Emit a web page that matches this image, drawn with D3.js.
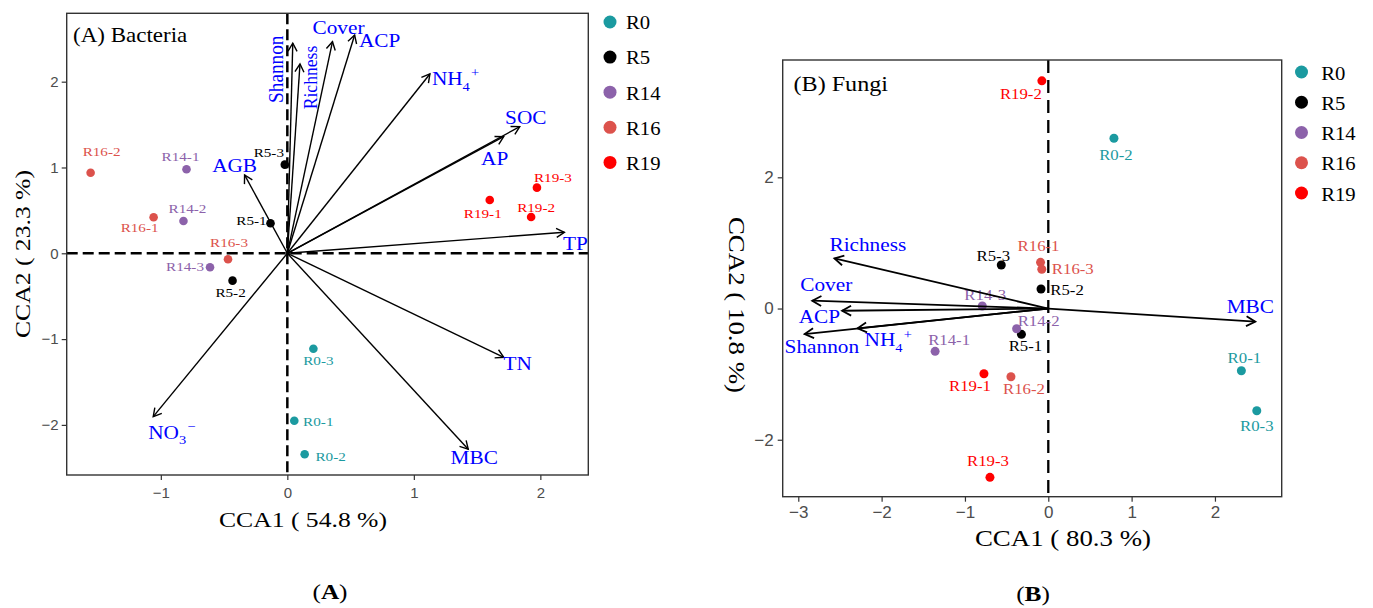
<!DOCTYPE html>
<html><head><meta charset="utf-8">
<script src="https://cdn.jsdelivr.net/npm/d3@7"></script>
<style>html,body{margin:0;padding:0;background:#fff;} svg{display:block;}</style>
</head><body><svg id="chart" width="1373" height="608"></svg>
<script>
// ---------------- data ----------------
const groups = ["R0", "R5", "R14", "R16", "R19"];
const groupColors = ["#1b9aa0", "#000000", "#8c62aa", "#dc524c", "#ff0000"];
const sites = ["R0-1","R0-2","R0-3","R5-1","R5-2","R5-3","R14-1","R14-2","R14-3","R16-1","R16-2","R16-3","R19-1","R19-2","R19-3"];

// (A) Bacteria – site scores
const bactCCA1 = [0.055, 0.137, 0.206, -0.133, -0.433, -0.02, -0.797, -0.821, -0.611, -1.057, -1.555, -0.469, 1.60, 1.927, 1.973];
const bactCCA2 = [-1.951, -2.343, -1.112, 0.35, -0.319, 1.033, 0.979, 0.376, -0.163, 0.42, 0.939, -0.07, 0.621, 0.423, 0.765];
// (A) Bacteria – environmental vectors
const bactVars = ["Shannon","Richness","Cover","ACP","NH4+","SOC","AP","TP","AGB","TN","MBC","NO3−"];
const bactVarCCA1 = [0.043, 0.10, 0.357, 0.532, 1.127, 1.837, 1.71, 2.19, -0.338, 1.711, 1.43, -1.06];
const bactVarCCA2 = [2.448, 2.206, 2.466, 2.544, 2.09, 1.476, 1.359, 0.245, 0.913, -1.212, -2.284, -1.904];
const bactXTicks = [-1, 0, 1, 2];
const bactYTicks = [-2, -1, 0, 1, 2];
const bactTitle = "(A) Bacteria";
const bactXLabel = "CCA1 ( 54.8 %)";
const bactYLabel = "CCA2 ( 23.3 %)";

// (B) Fungi – site scores
const fungCCA1 = [2.317, 0.788, 2.502, -0.322, -0.087, -0.564, -1.358, -0.38, -0.792, -0.093, -0.448, -0.078, -0.772, -0.077, -0.70];
const fungCCA2 = [-0.948, 2.595, -1.558, -0.393, 0.297, 0.663, -0.652, -0.308, 0.038, 0.704, -1.04, 0.598, -0.994, 3.47, -2.573];
// (B) Fungi – environmental vectors
const fungVars = ["Richness","Cover","ACP","NH4+","Shannon","MBC"];
const fungVarCCA1 = [-2.566, -2.832, -2.474, -2.288, -2.924, 2.484];
const fungVarCCA2 = [0.765, 0.119, -0.034, -0.302, -0.389, -0.201];
const fungXTicks = [-3, -2, -1, 0, 1, 2];
const fungYTicks = [-2, 0, 2];
const fungTitle = "(B) Fungi";
const fungXLabel = "CCA1 ( 80.3 %)";
const fungYLabel = "CCA2 ( 10.8 %)";

// ---------------- layout (label nudges in px, relative to the mark) ----------------
const bactSiteLabelOffset = [[24,5],[26,7],[5,16],[-19,2],[-2,16],[-16,-8],[-6,-8],[4,-8],[-25,4],[-14,15],[11,-17],[1,-12],[-7,18],[5,-5],[16,-6]];
const fungSiteLabelOffset = [[3,-8],[2,22],[0,20],[4,17],[26,6],[-8,-4],[14,-6],[22,-3],[3,-6],[-2,-11],[13,17],[31,5],[-14,17],[-21,18],[-2,-11]];
// [dx, dy, anchor, rotate]
const bactVarLabelPos = [[-10,26,"middle",-90],[17,13.5,"middle",-90],[6,-8,"middle",0],[25,12,"middle",0],[2,11,"start",0],[6,-3,"middle",0],[-9,28,"middle",0],[11,18,"middle",0],[-10,-3,"middle",0],[14,13,"middle",0],[6,15,"middle",0],[-5,22,"start",0]];
const fungVarLabelPos = [[-5,-7,"start",0],[-12,-10,"start",0],[-2,12,"end",0],[7,18,"start",0],[-20,19,"start",0],[-5,-9,"middle",0]];

const SERIF = "Liberation Serif, Times New Roman, serif";
const SANS = "Liberation Sans, Arial, sans-serif";
const SX = 1.15;
const BLUE = "#0000ff";

const svg = d3.select("#chart");
const defs = svg.append("defs");
function marker(id, len, half, w) {
  defs.append("marker").attr("id", id)
    .attr("viewBox", `${-len-2} ${-half-2} ${len+4} ${2*half+4}`)
    .attr("refX", 0).attr("refY", 0)
    .attr("markerWidth", len+4).attr("markerHeight", 2*half+4)
    .attr("markerUnits", "userSpaceOnUse").attr("orient", "auto")
    .append("path").attr("d", `M${-len},${-half}L0,0L${-len},${half}`)
    .attr("fill", "none").attr("stroke", "#000").attr("stroke-width", w);
}
marker("arrA", 8, 4.5, 1.4);
marker("arrB", 9, 5, 1.8);

function parts(name) {
  const m = name.match(/^([A-Z]+)(\d)([+−])$/);
  return m ? [[m[1]], [m[2], "sub"], [m[3], "sup"]] : name;
}

function drawText(g, x, y, content, o) {
  const fs = o.size;
  const t = g.append("text")
    .attr("transform", `translate(${x},${y})` + (o.rotate ? ` rotate(${o.rotate})` : "") + ` scale(${o.sx ?? SX},${o.sy ?? 1})`)
    .attr("text-anchor", o.anchor || "start")
    .style("font-family", o.family || SERIF)
    .style("font-size", fs + "px")
    .attr("fill", o.color || "#000");
  if (typeof content === "string") { t.text(content); return t; }
  let shift = 0;
  content.forEach(([s, kind]) => {
    const ts = t.append("tspan").text(s);
    if (kind === "sub") { ts.style("font-size", (fs * 0.68) + "px").attr("dy", fs * 0.3 - shift); shift = fs * 0.3; }
    else if (kind === "sup") { ts.style("font-size", (fs * 0.68) + "px").attr("dy", -fs * 0.42 - shift).attr("dx", 1); shift = -fs * 0.42; }
    else { ts.attr("dy", -shift); shift = 0; if (kind === "bold") ts.style("font-weight", "bold"); }
  });
  return t;
}

function panel(cfg) {
  const g = svg.append("g");
  const b = cfg.box;
  const x = d3.scaleLinear().domain(cfg.xDomain).range([b.left, b.right]);
  const y = d3.scaleLinear().domain(cfg.yDomain).range([b.bottom, b.top]);

  // dashed zero lines
  g.append("line").attr("x1", x(0)).attr("x2", x(0)).attr("y1", b.top).attr("y2", b.bottom)
    .attr("stroke", "#000").attr("stroke-width", cfg.dashW).attr("stroke-dasharray", cfg.dash);
  if (cfg.hDash) {
    g.append("line").attr("x1", b.left).attr("x2", b.right).attr("y1", y(0)).attr("y2", y(0))
      .attr("stroke", "#000").attr("stroke-width", cfg.dashW).attr("stroke-dasharray", cfg.dash);
  }

  const col = s => groupColors[groups.indexOf(s.split("-")[0])];

  // site labels
  sites.forEach((s, i) => {
    const [dx, dy] = cfg.siteOff[i];
    drawText(g, x(cfg.cca1[i]) + dx, y(cfg.cca2[i]) + dy, s, {size: cfg.siteFs, anchor: "middle", color: col(s)});
  });
  // site points
  g.selectAll("circle.site").data(sites).join("circle").attr("class", "site")
    .attr("cx", (d, i) => x(cfg.cca1[i])).attr("cy", (d, i) => y(cfg.cca2[i]))
    .attr("r", cfg.ptR).attr("fill", d => col(d));

  // vectors
  g.selectAll("line.vec").data(cfg.vars).join("line").attr("class", "vec")
    .attr("x1", x(0)).attr("y1", y(0))
    .attr("x2", (d, i) => x(cfg.vx[i])).attr("y2", (d, i) => y(cfg.vy[i]))
    .attr("stroke", "#000").attr("stroke-width", cfg.vecW).attr("marker-end", `url(#${cfg.marker})`);
  cfg.vars.forEach((v, i) => {
    const [dx, dy, anchor, rot] = cfg.varPos[i];
    const o = {size: cfg.varFs, anchor, color: BLUE, rotate: rot};
    if (rot) { o.size = cfg.rotFs[v]; o.sx = 1.1; o.sy = 1.15; }
    drawText(g, x(cfg.vx[i]) + dx, y(cfg.vy[i]) + dy, parts(v), o);
  });

  // frame
  g.append("rect").attr("x", b.left).attr("y", b.top).attr("width", b.right - b.left).attr("height", b.bottom - b.top)
    .attr("fill", "none").attr("stroke", "#333").attr("stroke-width", 1.4);

  // axes
  const fmt = d3.format("d");
  const ax = g.append("g").attr("transform", `translate(0,${b.bottom})`)
    .call(d3.axisBottom(x).tickValues(cfg.xTicks).tickFormat(fmt).tickSize(5).tickPadding(cfg.xPad));
  const ay = g.append("g").attr("transform", `translate(${b.left},0)`)
    .call(d3.axisLeft(y).tickValues(cfg.yTicks).tickFormat(fmt).tickSize(5).tickPadding(cfg.yPad));
  [ax, ay].forEach(a => {
    a.attr("font-family", null).attr("font-size", null);
    a.select(".domain").remove();
    a.selectAll(".tick line").attr("stroke", "#333").attr("stroke-width", 1.2);
    a.selectAll(".tick text").attr("fill", "#4d4d4d").style("font-family", SANS).style("font-size", cfg.tickFs + "px");
  });

  // titles
  drawText(g, cfg.titlePos[0], cfg.titlePos[1], cfg.title, {size: cfg.titleFs});
  drawText(g, cfg.xLabPos[0], cfg.xLabPos[1], cfg.xLabel, {size: cfg.axFs, anchor: "middle", sx: cfg.axSx});
  drawText(g, cfg.yLabPos[0], cfg.yLabPos[1], cfg.yLabel, {size: cfg.axFs, anchor: "middle", rotate: cfg.yRot, sx: cfg.axSx});
  drawText(g, cfg.capPos[0], cfg.capPos[1], [["("], [cfg.cap, "bold"], [")"]], {size: 22, anchor: "middle"});

  // legend
  const lg = cfg.legend;
  groups.forEach((gr, i) => {
    const ly = lg.y0 + i * lg.step;
    g.append("circle").attr("cx", lg.x).attr("cy", ly).attr("r", lg.r).attr("fill", groupColors[i]);
    drawText(g, lg.tx, ly + lg.base, gr, {size: 18});
  });
}

panel({
  box: {left: 66.7, right: 588.3, top: 13.3, bottom: 475},
  xDomain: [-1.744, 2.379], yDomain: [-2.584, 2.797],
  dash: "11,5", dashW: 2.5, hDash: true,
  cca1: bactCCA1, cca2: bactCCA2, siteOff: bactSiteLabelOffset, siteFs: 13.2, ptR: 4.3,
  vars: bactVars, vx: bactVarCCA1, vy: bactVarCCA2, varPos: bactVarLabelPos, varFs: 18.5,
  rotFs: {"Shannon": 17.5, "Richness": 16}, vecW: 1.4, marker: "arrA",
  xTicks: bactXTicks, yTicks: bactYTicks, tickFs: 15, xPad: 7, yPad: 3,
  title: bactTitle, titlePos: [73, 41.7], titleFs: 20,
  xLabel: bactXLabel, xLabPos: [303, 526.5], yLabel: bactYLabel, yLabPos: [30, 254], yRot: -90, axFs: 22, axSx: 1.165,
  cap: "A", capPos: [330, 599],
  legend: {x: 610, y0: 22, step: 35.1, r: 6.5, tx: 626, base: 7.3}
});

panel({
  box: {left: 782.7, right: 1281.7, top: 60, bottom: 496.7},
  xDomain: [-3.187, 2.801], yDomain: [-2.868, 3.788],
  dash: "13,7", dashW: 2.3, hDash: false,
  cca1: fungCCA1, cca2: fungCCA2, siteOff: fungSiteLabelOffset, siteFs: 14.6, ptR: 4.5,
  vars: fungVars, vx: fungVarCCA1, vy: fungVarCCA2, varPos: fungVarLabelPos, varFs: 18.5,
  rotFs: {}, vecW: 1.8, marker: "arrB",
  xTicks: fungXTicks, yTicks: fungYTicks, tickFs: 17, xPad: 4.5, yPad: 4,
  title: fungTitle, titlePos: [793.5, 90.7], titleFs: 21,
  xLabel: fungXLabel, xLabPos: [1063, 546], yLabel: fungYLabel, yLabPos: [729, 305], yRot: 90, axFs: 24, axSx: 1.12,
  cap: "B", capPos: [1033, 601],
  legend: {x: 1301.5, y0: 72, step: 30.25, r: 6.5, tx: 1321.2, base: 7.5}
});
</script></body></html>
